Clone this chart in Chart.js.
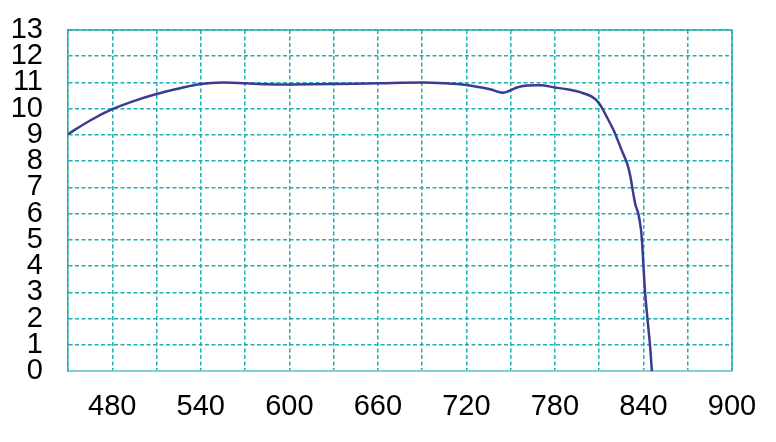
<!DOCTYPE html>
<html>
<head>
<meta charset="utf-8">
<script src="https://cdn.jsdelivr.net/npm/chart.js@4/dist/chart.umd.min.js"></script>
<style>
  html, body { margin: 0; padding: 0; background: #fff; }
  #wrap { width: 776px; height: 442px; }
</style>
</head>
<body>
<div id="wrap"><canvas id="chart" width="776" height="442"></canvas></div>
<script>
// wavelength (x) and value (y)
const wavelengths = [450, 465, 480, 495, 510, 526, 540, 555, 570, 585, 600, 630, 660, 690, 705, 720, 736, 745, 756, 770, 780, 790, 797, 805, 810, 815, 820, 825, 829, 831, 833, 834.5, 836.5, 838.3, 839, 840, 841.1, 842.7, 844.4, 845.7];
const values = [9.03, 9.55, 9.98, 10.3, 10.56, 10.78, 10.94, 11.0, 10.97, 10.93, 10.92, 10.94, 10.97, 11.0, 10.97, 10.9, 10.74, 10.61, 10.84, 10.89, 10.81, 10.72, 10.63, 10.46, 10.2, 9.7, 9.15, 8.45, 7.9, 7.45, 6.8, 6.35, 6.0, 5.4, 4.95, 4.0, 3.0, 2.0, 1.0, 0];

const xMin = 450, xMax = 900, xStep = 30;
const xLabelStart = 480, xLabelStep = 60;
const yMin = 0, yMax = 13, yStep = 1;

const gridColor = "#1fb0b2";
const frameColor = "#7fd2d2";
const labelFont = { family: "Liberation Sans, Arial, sans-serif", size: 29 };

const points = wavelengths.map((w, i) => ({ x: w, y: values[i] }));

// solid frame on top and right, like the original
const framePlugin = {
  id: "frame",
  afterDraw(chart) {
    const { ctx, chartArea } = chart;
    ctx.save();
    ctx.strokeStyle = gridColor;
    ctx.lineWidth = 1.5;
    ctx.beginPath();
    ctx.moveTo(chartArea.left, chartArea.top);
    ctx.lineTo(chartArea.right, chartArea.top);
    ctx.lineTo(chartArea.right, chartArea.bottom);
    ctx.stroke();
    ctx.restore();
  }
};

// keep the plot box where the original has it
function noAutoPadding(scale) {
  scale.paddingTop = 0;
  scale.paddingBottom = 0;
  scale.paddingLeft = 0;
  scale.paddingRight = 0;
}

new Chart(document.getElementById("chart"), {
  type: "line",
  data: {
    datasets: [{
      data: points,
      borderColor: "#3b3b92",
      borderWidth: 2.5,
      pointRadius: 0,
      fill: false,
      tension: 0.35
    }]
  },
  options: {
    responsive: false,
    animation: false,
    layout: { padding: { left: 0, right: 44, top: 30, bottom: 0 } },
    plugins: { legend: { display: false }, tooltip: { enabled: false } },
    scales: {
      x: {
        type: "linear",
        min: xMin,
        max: xMax,
        grid: { color: gridColor, lineWidth: 1.5, drawTicks: false },
        border: { color: frameColor, width: 2, dash: [4, 2.5] },
        afterFit(scale) {
          scale.height = 71;
          noAutoPadding(scale);
        },
        ticks: {
          stepSize: xStep,
          autoSkip: false,
          maxRotation: 0,
          padding: 19,
          color: "#000",
          font: labelFont,
          callback: (v) => ((v - xLabelStart) % xLabelStep === 0 ? String(v) : "")
        }
      },
      y: {
        min: yMin,
        max: yMax,
        grid: { color: gridColor, lineWidth: 1.5, drawTicks: false },
        border: { color: gridColor, width: 1.5, dash: [4, 2.5] },
        afterFit(scale) {
          scale.width = 68;
          noAutoPadding(scale);
        },
        ticks: {
          stepSize: yStep,
          autoSkip: false,
          padding: 25,
          color: "#000",
          font: labelFont
        }
      }
    }
  },
  plugins: [framePlugin]
});
</script>
</body>
</html>
